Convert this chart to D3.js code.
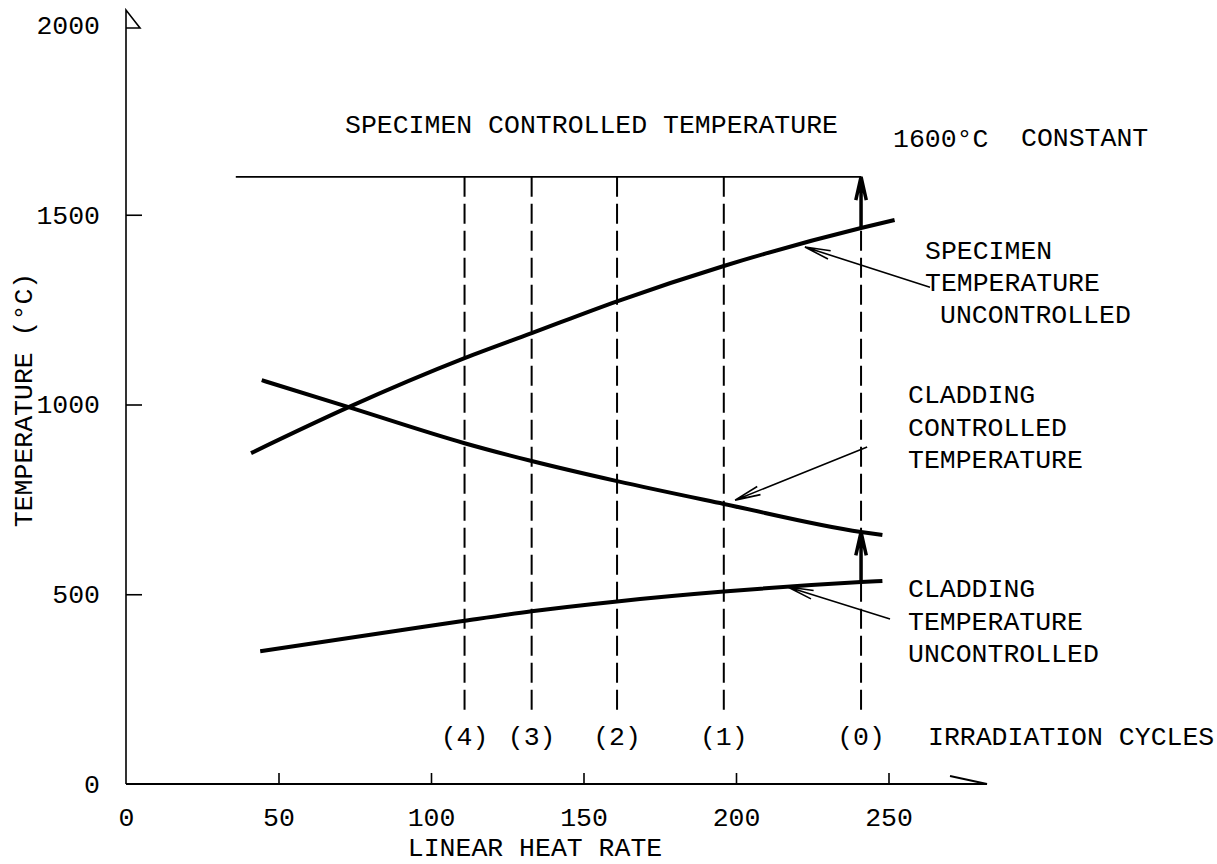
<!DOCTYPE html>
<html>
<head>
<meta charset="utf-8">
<script src="https://cdn.jsdelivr.net/npm/d3@7"></script>
<style>
  body { margin: 0; background: #fff; }
  svg text { font-family: "Liberation Mono", monospace; font-size: 26.5px; fill: #000; }
</style>
</head>
<body>
<svg id="chart"></svg>
<script>
// axis ticks
const xTicks = [0, 50, 100, 150, 200, 250];
const yTicks = [0, 500, 1000, 1500, 2000];

// irradiation cycles (linear heat rate of each cycle)
const cycleLabels = ['(4)', '(3)', '(2)', '(1)', '(0)'];
const cycleRates = [111, 133, 161, 196, 241];
const controlledTemp = 1600;
const controlledFrom = 36;
const dashBottom = 190;

// curves: [linear heat rate, temperature °C]
const specimenUncontrolled = [[41, 872], [73, 993], [111, 1122], [133, 1188], [161, 1272], [196, 1365], [241, 1465], [252, 1486]];
const claddingControlled = [[44.5, 1064], [73, 993], [111, 898], [133, 851], [161, 798], [196, 738], [241, 664], [248, 656]];
const claddingUncontrolled = [[44, 350], [90, 405], [111, 430], [133, 455], [161, 481], [196, 507], [241, 532], [248, 535]];

// vertical arrows at cycle (0): from uncontrolled to controlled temperature
const riseArrows = [[241, 1465, 1600], [241, 532, 664]];

// pointer arrows: [tail rate, tail temp, tip rate, tip temp]
const pointers = [[263.6, 1309, 222.6, 1415], [243, 888, 199.7, 748], [250.5, 435, 217, 519]];

const width = 1217, height = 864;

const x = d3.scaleLinear().domain([0, 250]).range([126, 888.5]);
const y = d3.scaleLinear().domain([0, 2000]).range([784, 25]);

const svg = d3.select('#chart')
  .attr('width', width)
  .attr('height', height);

svg.append('rect').attr('width', width).attr('height', height).attr('fill', '#fff');

// y axis
let gy = svg.append('g')
  .attr('transform', `translate(${x(0)},0)`)
  .call(d3.axisLeft(y).tickValues(yTicks).tickSizeInner(-16).tickSizeOuter(0).tickPadding(26).tickFormat(d3.format('d')));
gy.select('.domain').remove();
gy.selectAll('.tick line').attr('stroke', '#000').attr('stroke-width', 1.6)
  .filter(d => d === 0 || d === 2000).remove();
gy.selectAll('.tick text').attr('font-size', null).attr('font-family', null);

// x axis
let gx = svg.append('g')
  .attr('transform', `translate(0,${y(0)})`)
  .call(d3.axisBottom(x).tickValues(xTicks).tickSizeInner(-11).tickSizeOuter(0).tickPadding(23));
gx.select('.domain').remove();
gx.selectAll('.tick line').attr('stroke', '#000').attr('stroke-width', 1.6)
  .filter(d => d === 0).remove();
gx.selectAll('.tick text').attr('font-size', null).attr('font-family', null);

// axis lines with arrow ends
const x0 = x(0), y0 = y(0);
svg.append('path')
  .attr('d', `M${x0},${y0}V10 L${x0 + 14},28H${x0}`)
  .attr('fill', 'none').attr('stroke', '#000').attr('stroke-width', 1.6);
svg.append('path')
  .attr('d', `M${x0},${y0}H987 L950,${y0 - 8}`)
  .attr('fill', 'none').attr('stroke', '#000').attr('stroke-width', 1.8);

// controlled temperature line
svg.append('line')
  .attr('x1', x(controlledFrom)).attr('x2', x(cycleRates[4]))
  .attr('y1', y(controlledTemp)).attr('y2', y(controlledTemp))
  .attr('stroke', '#000').attr('stroke-width', 1.8);

// dashed cycle lines
svg.selectAll('.cycle')
  .data(cycleRates)
  .join('line')
  .attr('class', 'cycle')
  .attr('x1', d => x(d)).attr('x2', d => x(d))
  .attr('y1', y(controlledTemp)).attr('y2', y(dashBottom))
  .attr('stroke', '#000').attr('stroke-width', 2)
  .attr('stroke-dasharray', '20,7');

svg.selectAll('.cycle-label')
  .data(cycleRates)
  .join('text')
  .attr('class', 'cycle-label')
  .attr('x', d => x(d)).attr('y', 745)
  .attr('text-anchor', 'middle')
  .text((d, i) => cycleLabels[i]);

// curves
const line = d3.line().x(d => x(d[0])).y(d => y(d[1])).curve(d3.curveMonotoneX);
svg.selectAll('.curve')
  .data([specimenUncontrolled, claddingControlled, claddingUncontrolled])
  .join('path')
  .attr('class', 'curve')
  .attr('d', line)
  .attr('fill', 'none').attr('stroke', '#000').attr('stroke-width', 4);

function head(tx, ty, fx, fy, len, ang) {
  let a = Math.atan2(fy - ty, fx - tx);
  let p1 = [tx + len * Math.cos(a + ang), ty + len * Math.sin(a + ang)];
  let p2 = [tx + len * Math.cos(a - ang), ty + len * Math.sin(a - ang)];
  return `M${p1}L${tx},${ty}L${p2}`;
}

// rise arrows at cycle (0)
riseArrows.forEach(d => {
  let px = x(d[0]), pf = y(d[1]), pt = y(d[2]);
  svg.append('path')
    .attr('d', `M${px},${pf}V${pt}` + head(px, pt, px, pf, 24, 0.22))
    .attr('fill', 'none').attr('stroke', '#000').attr('stroke-width', 3.5);
});

// pointer arrows
pointers.forEach(d => {
  let fx = x(d[0]), fy = y(d[1]), tx = x(d[2]), ty = y(d[3]);
  svg.append('path')
    .attr('d', `M${fx},${fy}L${tx},${ty}` + head(tx, ty, fx, fy, 26, 0.17))
    .attr('fill', 'none').attr('stroke', '#000').attr('stroke-width', 1.6);
});

// texts
svg.append('text').attr('x', 345).attr('y', 133).text('SPECIMEN CONTROLLED TEMPERATURE');
svg.append('text').attr('x', 893).attr('y', 147).text('1600°C');
svg.append('text').attr('x', 1021).attr('y', 146).text('CONSTANT');
svg.append('text').attr('x', 928).attr('y', 745).text('IRRADIATION CYCLES');

const notes = [
  [925, 259, 'SPECIMEN'], [925, 291, 'TEMPERATURE'], [940, 323, 'UNCONTROLLED'],
  [908, 403, 'CLADDING'], [908, 436, 'CONTROLLED'], [908, 468, 'TEMPERATURE'],
  [908, 597, 'CLADDING'], [908, 630, 'TEMPERATURE'], [908, 662, 'UNCONTROLLED']
];
svg.selectAll('.note')
  .data(notes)
  .join('text')
  .attr('class', 'note')
  .attr('x', d => d[0]).attr('y', d => d[1])
  .text(d => d[2]);

svg.append('text')
  .attr('x', 535).attr('y', 856)
  .attr('text-anchor', 'middle')
  .text('LINEAR HEAT RATE');

svg.append('text')
  .attr('transform', 'translate(32,400) rotate(-90)')
  .attr('text-anchor', 'middle')
  .text('TEMPERATURE (°C)');
</script>
</body>
</html>
